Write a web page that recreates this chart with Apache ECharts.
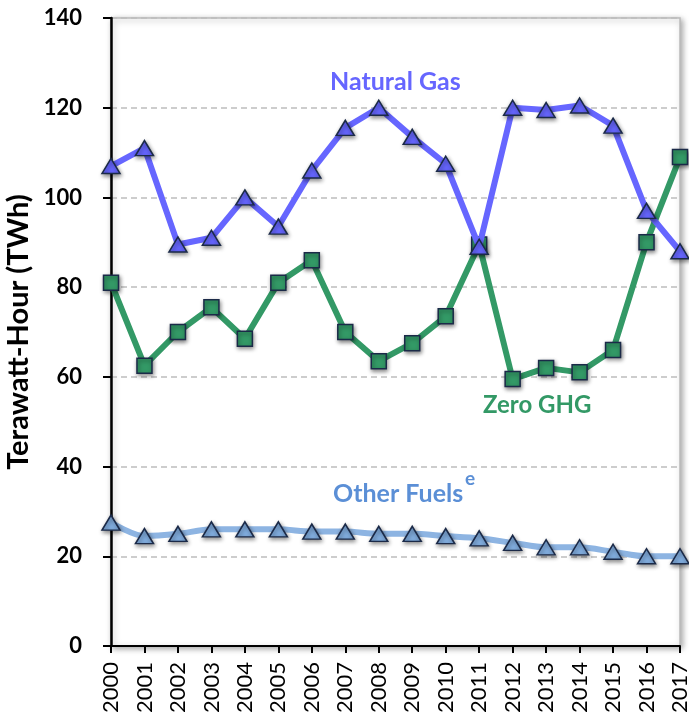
<!DOCTYPE html>
<html><head><meta charset="utf-8">
<script src="https://cdn.jsdelivr.net/npm/echarts@6/dist/echarts.min.js"></script>
<style>html,body{margin:0;padding:0;background:#fff}#c{width:689px;height:724px}</style>
</head><body><div id="c"></div>
<script>
const years = ['2000','2001','2002','2003','2004','2005','2006','2007','2008','2009','2010','2011','2012','2013','2014','2015','2016','2017'];
const naturalGas = [107, 111, 89.5, 91, 100, 93.5, 106, 115.5, 120, 113.5, 107.5, 89, 120, 119.5, 120.5, 116, 97, 88];
const zeroGHG = [81, 62.5, 70, 75.5, 68.5, 81, 86, 70, 63.5, 67.5, 73.5, 89.5, 59.5, 62, 61, 66, 90, 109];
const otherFuels = [27.5, 24.5, 25, 26, 26, 26, 25.5, 25.5, 25, 25, 24.5, 24, 23, 22, 22, 21, 20, 20];
const yTicks = [0, 20, 40, 60, 80, 100, 120, 140];

const chart = echarts.init(document.getElementById('c'));
const font = 'Lato, sans-serif';
const markerBorder = {borderColor:'#1b2a48', borderWidth:1.5, shadowColor:'rgba(0,0,0,0.45)', shadowBlur:4, shadowOffsetX:1, shadowOffsetY:2};
chart.setOption({
  animation:false,
  grid:{left:111, right:9, top:18, bottom:78, containLabel:false, outerBoundsMode:'none',
        show:true, borderColor:'#bbb', borderWidth:1.5,
        shadowColor:'rgba(0,0,0,0.35)', shadowBlur:6, shadowOffsetX:2, shadowOffsetY:2, backgroundColor:'#fff'},
  xAxis:{type:'category', data:years, boundaryGap:false,
    axisLine:{lineStyle:{color:'#000', width:2}},
    axisTick:{show:true, length:7, lineStyle:{color:'#000', width:2}},
    axisLabel:{rotate:90, color:'#000', fontSize:22, fontFamily:font, margin:16}
  },
  yAxis:{type:'value', min:0, max:140, interval:20,
    name:'Terawatt-Hour (TWh)', nameLocation:'middle', nameGap:71, nameRotate:90,
    nameTextStyle:{fontSize:29, fontWeight:'bold', color:'#000', fontFamily:font},
    axisLine:{show:true, lineStyle:{color:'#000', width:2.5}},
    axisTick:{show:true, length:8, lineStyle:{color:'#000', width:2}},
    axisLabel:{color:'#000', fontSize:22, fontWeight:'bold', fontFamily:font, margin:29,
      formatter:v=>yTicks.includes(v)?String(v):''},
    splitLine:{lineStyle:{color:'#bdbdbd', type:[6,4], width:1.5}}
  },
  series:[
    {name:'Other Fuels', type:'line', data:otherFuels, smooth:0.3, symbol:'triangle', symbolSize:[18,15],
      lineStyle:{color:'#8db4e2', width:6}, itemStyle:Object.assign({color:'#82aee0'}, markerBorder), z:3},
    {name:'Zero GHG', type:'line', data:zeroGHG, symbol:'rect', symbolSize:15,
      lineStyle:{color:'#339966', width:6}, itemStyle:Object.assign({color:'#339966'}, markerBorder), z:4},
    {name:'Natural Gas', type:'line', data:naturalGas, symbol:'triangle', symbolSize:[18,15],
      lineStyle:{color:'#6666ff', width:6}, itemStyle:Object.assign({color:'#6666ff'}, markerBorder), z:5}
  ],
  graphic:[
    {type:'text', x:330, y:82, style:{text:'Natural Gas', fill:'#6666ff', font:'bold 25px '+font, verticalAlign:'middle'}},
    {type:'text', x:483, y:405, style:{text:'Zero GHG', fill:'#339966', font:'bold 24px '+font, verticalAlign:'middle'}},
    {type:'text', x:333, y:494, style:{text:'Other Fuels', fill:'#5b8fd6', font:'bold 25px '+font, verticalAlign:'middle'}},
    {type:'text', x:465, y:479, style:{text:'e', fill:'#5b8fd6', font:'bold 19px '+font, verticalAlign:'middle'}}
  ]
});
</script></body></html>
